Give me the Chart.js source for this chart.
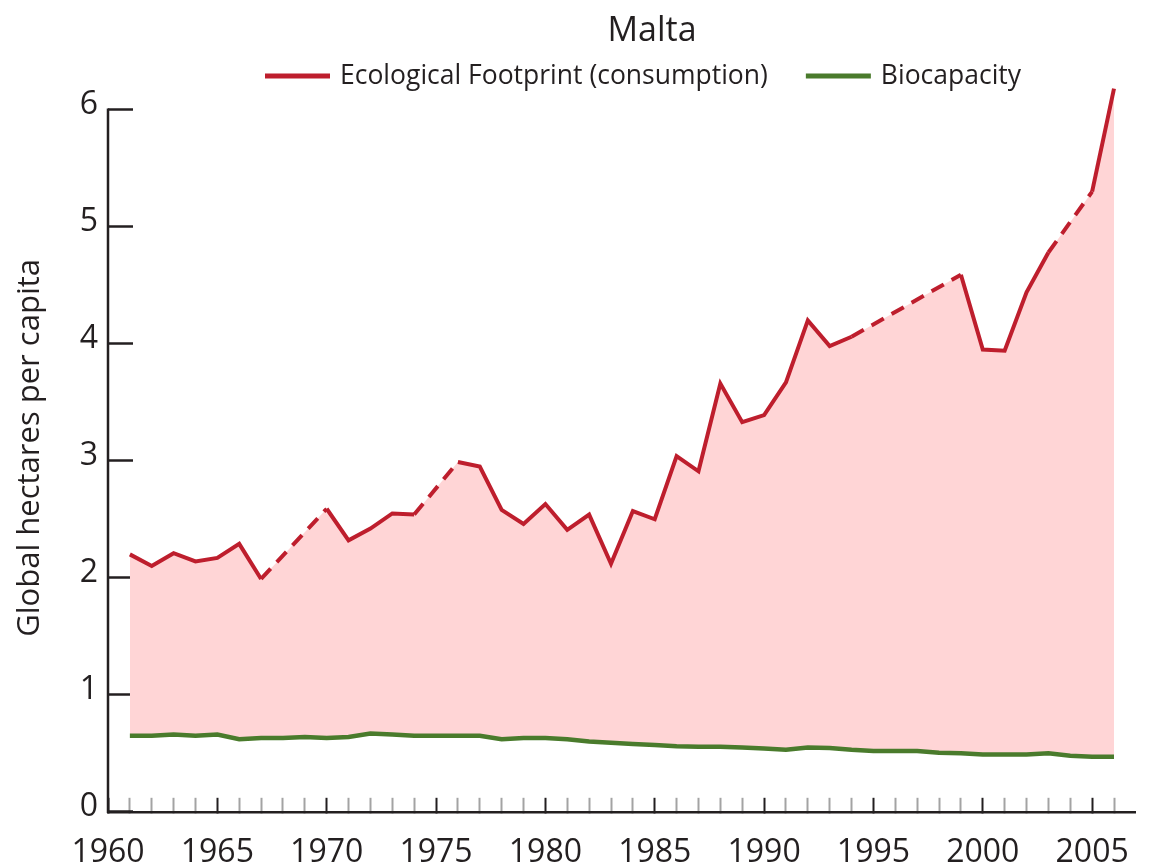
<!DOCTYPE html>
<html>
<head>
<meta charset="utf-8">
<script src="https://cdn.jsdelivr.net/npm/chart.js@4.4.1/dist/chart.umd.min.js"></script>
<style>
html,body{margin:0;padding:0;background:#ffffff;}
#c{display:block;}
</style>
</head>
<body>
<canvas id="c" width="1150" height="866"></canvas>
<script>
// ---------- data ----------
const chartTitle = 'Malta';
const yAxisTitle = 'Global hectares per capita';
const seriesNames = ['Ecological Footprint (consumption)', 'Biocapacity'];

const years = [1961,1962,1963,1964,1965,1966,1967,1968,1969,1970,
               1971,1972,1973,1974,1975,1976,1977,1978,1979,1980,
               1981,1982,1983,1984,1985,1986,1987,1988,1989,1990,
               1991,1992,1993,1994,1995,1996,1997,1998,1999,2000,
               2001,2002,2003,2004,2005,2006];

// null = year without data (drawn as dashed connection)
const footprint = [2.20,2.10,2.21,2.14,2.17,2.29,1.99,null,null,2.59,
                   2.32,2.42,2.55,2.54,null,2.99,2.95,2.58,2.46,2.63,
                   2.41,2.54,2.12,2.57,2.50,3.04,2.91,3.66,3.33,3.39,
                   3.67,4.20,3.98,4.06,null,null,null,null,4.59,3.95,
                   3.94,4.44,4.78,null,5.30,6.18];

const biocapacity = [0.65,0.65,0.66,0.65,0.66,0.62,0.63,0.63,0.64,0.63,
                     0.64,0.67,0.66,0.65,0.65,0.65,0.65,0.62,0.63,0.63,
                     0.62,0.60,0.59,0.58,0.57,0.56,0.556,0.556,0.55,0.54,
                     0.53,0.55,0.545,0.53,0.52,0.52,0.52,0.505,0.50,0.49,
                     0.49,0.49,0.50,0.48,0.47,0.47];

const xTickLabels = ['1960','1965','1970','1975','1980','1985','1990','1995','2000','2005'];
const yTickLabels = ['0','1','2','3','4','5','6'];

// ---------- styles ----------
const TEXT = '#231F20';
const RED = '#BE1E2D';
const GREEN = '#4A7B2C';
const PINK = 'rgb(255,213,214)';
const FONT = '"Open Sans", "Noto Sans", sans-serif';

const xStart = Number(xTickLabels[0]);
const xMinorEnd = years[years.length - 1];

const skipped = (ctx, v) => (ctx.p0.skip || ctx.p1.skip) ? v : undefined;

const headerPlugin = {
  id: 'header',
  afterDraw(chart) {
    const ctx = chart.ctx;
    ctx.save();
    ctx.fillStyle = TEXT;
    ctx.font = '34px ' + FONT;
    ctx.textAlign = 'center';
    ctx.textBaseline = 'middle';
    ctx.fillText(chartTitle, 652, 31);
    ctx.font = '26.5px ' + FONT;
    ctx.textAlign = 'left';
    let x = 265;
    const y = 76;
    chart.data.datasets.forEach(ds => {
      if (!ds.label) return;
      ctx.fillStyle = ds.borderColor;
      ctx.fillRect(x, y - 2.5, 65, 5);
      x += 65 + 10;
      ctx.fillStyle = TEXT;
      ctx.fillText(ds.label, x, y);
      x += ctx.measureText(ds.label).width + 38;
    });
    ctx.restore();
  }
};

const yAxisLinePlugin = {
  id: 'yAxisLine',
  afterDatasetsDraw(chart) {
    const ys = chart.scales.y;
    const ctx = chart.ctx;
    const top = ys.getPixelForValue(Number(yTickLabels[yTickLabels.length - 1]));
    const bottom = ys.getPixelForValue(Number(yTickLabels[0]));
    const x = chart.chartArea.left;
    ctx.save();
    ctx.strokeStyle = TEXT;
    ctx.lineWidth = 2.5;
    ctx.beginPath();
    ctx.moveTo(x, top - 1.25);
    ctx.lineTo(x, bottom + 1.25);
    ctx.stroke();
    ctx.restore();
  }
};

const chart = new Chart(document.getElementById('c'), {
  type: 'line',
  data: {
    datasets: [
      {
        // shaded area between footprint and biocapacity
        label: '',
        data: years.map((y, i) => ({x: y, y: footprint[i]})),
        borderColor: 'rgba(0,0,0,0)',
        backgroundColor: PINK,
        borderWidth: 0,
        pointRadius: 0,
        tension: 0,
        spanGaps: true,
        fill: 2
      },
      {
        label: seriesNames[0],
        data: years.map((y, i) => ({x: y, y: footprint[i]})),
        borderColor: RED,
        backgroundColor: RED,
        borderWidth: 4,
        pointRadius: 0,
        tension: 0,
        spanGaps: true,
        fill: false,
        clip: false,
        segment: { borderDash: ctx => skipped(ctx, [14, 9]) }
      },
      {
        label: seriesNames[1],
        data: years.map((y, i) => ({x: y, y: biocapacity[i]})),
        borderColor: GREEN,
        backgroundColor: GREEN,
        borderWidth: 4.5,
        pointRadius: 0,
        tension: 0,
        fill: false
      }
    ]
  },
  options: {
    responsive: false,
    animation: false,
    events: [],
    devicePixelRatio: 1,
    layout: { padding: { top: 84, left: 0, right: 0, bottom: 0 } },
    plugins: {
      legend: { display: false },
      title: { display: false },
      tooltip: { enabled: false },
      filler: { drawTime: 'beforeDatasetsDraw' }
    },
    scales: {
      x: {
        type: 'linear',
        min: xStart,
        max: 2007,
        z: 1,
        afterFit: s => { s.height = 52; },
        afterBuildTicks: s => {
          const t = [];
          for (let v = xStart; v <= xMinorEnd; v++) t.push({value: v});
          s.ticks = t;
        },
        border: { display: true, color: TEXT, width: 2.5 },
        grid: {
          display: true,
          drawOnChartArea: false,
          drawTicks: true,
          tickLength: -14,
          tickColor: c => (xTickLabels.includes(String(c.tick && c.tick.value)) ? TEXT : '#A3A3A3'),
          tickWidth: 2
        },
        ticks: {
          autoSkip: false,
          maxRotation: 0,
          minRotation: 0,
          padding: 36,
          color: TEXT,
          font: { family: FONT, size: 32 },
          callback: v => (xTickLabels.includes(String(v)) ? String(v) : '')
        }
      },
      y: {
        type: 'linear',
        min: 0,
        max: 6.22,
        z: 1,
        afterFit: s => { s.width = 108; },
        afterBuildTicks: s => { s.ticks = yTickLabels.map(v => ({value: Number(v)})); },
        border: { display: false },
        grid: {
          display: true,
          drawOnChartArea: false,
          drawTicks: true,
          tickLength: -25,
          tickColor: TEXT,
          tickWidth: 2.5
        },
        ticks: {
          padding: 35,
          labelOffset: -5,
          color: TEXT,
          font: { family: FONT, size: 32 },
          callback: v => String(v)
        },
        title: {
          display: true,
          text: yAxisTitle,
          color: TEXT,
          font: { family: FONT, size: 31 },
          padding: { top: 12, bottom: 0 }
        }
      }
    }
  },
  plugins: [headerPlugin, yAxisLinePlugin]
});
</script>
</body>
</html>
